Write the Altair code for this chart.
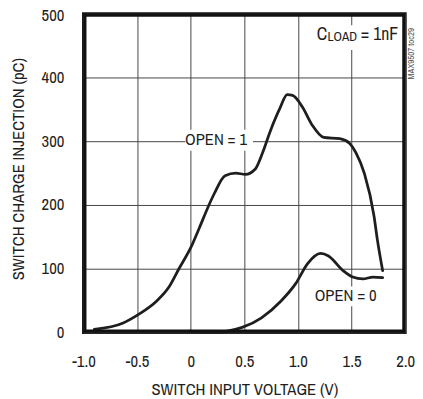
import altair as alt
import pandas as pd
import json

# ---- data ----
open1_x = [-0.90, -0.63, -0.49, -0.32, -0.20, -0.11, 0.00, 0.08, 0.17, 0.22, 0.32, 0.42, 0.51, 0.60,
           0.67, 0.74, 0.83, 0.90, 0.95, 1.04, 1.13, 1.24, 1.39, 1.48, 1.54, 1.62, 1.71, 1.74, 1.79]
open1_y = [5, 15, 28, 49, 72, 100, 133, 164, 200, 218, 246, 250, 248, 256,
           282, 315, 351, 373, 372, 354, 326, 306, 304, 297, 282, 249, 182, 146, 97]

open0_x = [-0.01, 0.20, 0.48, 0.66, 0.84, 0.98, 1.09, 1.21, 1.285, 1.42, 1.51, 1.605, 1.70, 1.79]
open0_y = [2, 0, 8, 23, 49, 77, 108, 124, 120, 97, 87, 84, 87, 86]

x_ticks = [-1.0, -0.5, 0.0, 0.5, 1.0, 1.5, 2.0]
x_tick_labels = ["-1.0", "-0.5", "0", "0.5", "1.0", "1.5", "2.0"]
y_ticks = [0, 100, 200, 300, 400, 500]

x_title = "SWITCH INPUT VOLTAGE (V)"
y_title = "SWITCH CHARGE INJECTION (pC)"

# annotations (data units)
label_text = ["OPEN = 1", "OPEN = 0"]
label_x = [0.236, 1.445]
label_y = [301, 56.5]
box_x1 = [-0.05, 1.16, 1.13]
box_x2 = [0.58, 1.74, 1.97]
box_y1 = [285, 41, 443]
box_y2 = [318, 72, 482]

cload_parts = ["C", "LOAD", "= 1nF"]
cload_x = [1.175, 1.275, 1.585]
cload_y = [467, 463.5, 467]
cload_size = [18, 13.5, 18]

watermark = "MAX9507 toc29"

FONT = "Archivo Narrow"
INK = "#1e1e1e"
FS = 17
W, H = 328, 325

rows = [{"series": "OPEN = 1", "v": x, "q": y} for x, y in zip(open1_x, open1_y)]
rows += [{"series": "OPEN = 0", "v": x, "q": y} for x, y in zip(open0_x, open0_y)]
curves_df = pd.DataFrame(rows)
labels_df = pd.DataFrame({"t": label_text, "v": label_x, "q": label_y})
boxes_df = pd.DataFrame({"x1": box_x1, "x2": box_x2, "y1": box_y1, "y2": box_y2})
cload_df = pd.DataFrame({"t": cload_parts, "v": cload_x, "q": cload_y, "s": cload_size})

xscale = alt.Scale(domain=[-1, 2], nice=False, zero=False)
yscale = alt.Scale(domain=[0, 500], nice=False, zero=False)

label_expr = "{}[indexof({}, datum.value)]".format(json.dumps(x_tick_labels), json.dumps(x_ticks))

x_axis = alt.Axis(values=x_ticks, labelExpr=label_expr, title=x_title, ticks=False, tickSize=0,
                  labelPadding=22, domain=False, grid=True, gridColor="#444", gridWidth=1,
                  labelFont=FONT, labelFontSize=FS, labelColor=INK, titleFont=FONT,
                  titleFontSize=FS, titleFontWeight="normal", titleColor=INK,
                  titleBaseline="alphabetic", titleY=63, labelFlush=False, labelOverlap=False)
y_axis = alt.Axis(values=y_ticks, title=y_title, ticks=False, tickSize=0, labelPadding=20,
                  domain=False, grid=True, gridColor="#444", gridWidth=1,
                  labelFont=FONT, labelFontSize=FS, labelColor=INK, titleFont=FONT,
                  labelOffset={"condition": {"test": "datum.value == 500", "value": 2}, "value": 0},
                  titleFontSize=FS, titleFontWeight="normal", titleColor=INK,
                  titleAngle=270, titleBaseline="middle", titleAlign="center",
                  titleX=-66.5, titleY=158, labelFlush=False, labelOverlap=False)

boxes = alt.Chart(boxes_df).mark_rect(color="white").encode(
    x=alt.X("x1:Q", scale=xscale, axis=x_axis),
    x2="x2:Q",
    y=alt.Y("y1:Q", scale=yscale, axis=y_axis),
    y2="y2:Q",
)

curves = alt.Chart(curves_df).mark_line(color=INK, strokeWidth=2.8, interpolate="monotone",
                                        strokeCap="round", strokeJoin="round").encode(
    x=alt.X("v:Q", scale=xscale),
    y=alt.Y("q:Q", scale=yscale),
    detail="series:N",
)

labels = alt.Chart(labels_df).mark_text(font=FONT, fontSize=FS, color=INK, align="center",
                                        baseline="middle").encode(
    x=alt.X("v:Q", scale=xscale), y=alt.Y("q:Q", scale=yscale), text="t:N")

cload = alt.Chart(cload_df).mark_text(font=FONT, color=INK, align="left", baseline="middle").encode(
    x=alt.X("v:Q", scale=xscale), y=alt.Y("q:Q", scale=yscale), text="t:N",
    size=alt.Size("s:Q", scale=None, legend=None))

wm = alt.Chart(pd.DataFrame({"t": [watermark]})).mark_text(
    font=FONT, fontSize=9, color="#555", angle=270, align="left", baseline="alphabetic").encode(
    x=alt.value(W + 9), y=alt.value(67), text="t:N")

# plot frame: four thick rules just inside the plotting area
edge = 1.5
frame_spec = [
    dict(x=edge, x2=edge, y=0, y2=H),
    dict(x=W - edge, x2=W - edge, y=0, y2=H),
    dict(x=0, x2=W, y=edge, y2=edge),
    dict(x=0, x2=W, y=H - edge, y2=H - edge),
]
frame_layers = [
    alt.Chart(pd.DataFrame({"k": [0]})).mark_rule(color="#111", strokeWidth=3).encode(
        x=alt.value(f["x"]), x2=alt.value(f["x2"]), y=alt.value(f["y"]), y2=alt.value(f["y2"]))
    for f in frame_spec
]

chart = alt.layer(boxes, curves, labels, cload, wm, *frame_layers).properties(
    width=W, height=H,
    padding={"left": 77, "top": 2, "right": 10, "bottom": 64},
    autosize=alt.AutoSizeParams(type="none"),
).configure(background="white").configure_view(stroke="#111", strokeWidth=3)

chart.save("out.html", embed_options={"renderer": "svg", "actions": False})
